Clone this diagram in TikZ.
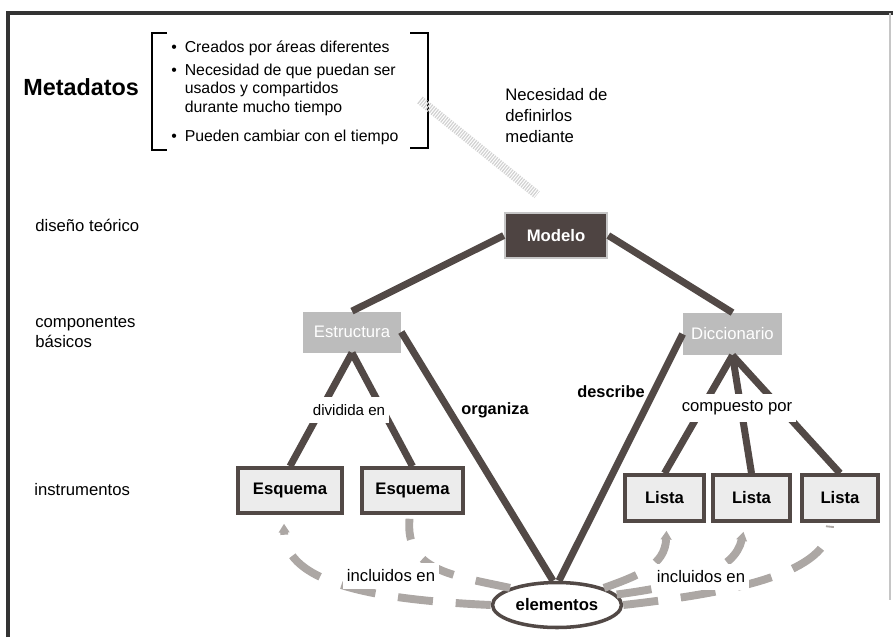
\documentclass[tikz,border=0pt]{standalone}
\usepackage{fontspec}
\setmainfont{Liberation Sans}
\usetikzlibrary{calc,shapes.geometric,arrows.meta}

\definecolor{linedark}{RGB}{82,73,70}
\definecolor{boxdark}{RGB}{78,68,66}
\definecolor{midgray}{RGB}{188,188,188}
\definecolor{dashgray}{RGB}{172,167,164}
\definecolor{lightbox}{RGB}{236,236,236}

\tikzset{
	topbox/.style={draw=gray!45, line width=1.5pt, fill=boxdark, text=white, font=\fontsize{9.5}{11}\selectfont\bfseries, minimum width=2.04cm, minimum height=0.9cm, inner sep=0pt},
	midbox/.style={fill=midgray, text=white, font=\fontsize{9.5}{11}\selectfont, minimum height=0.82cm, inner sep=0pt},
	lowbox/.style={draw=linedark, line width=2pt, fill=lightbox, font=\fontsize{9.5}{11}\selectfont\bfseries, minimum height=0.9cm, inner sep=0pt},
	link/.style={line width=4pt, draw=linedark},
	incl/.style={line width=4.5pt, draw=dashgray, dash pattern=on 20pt off 13pt},
	lbl/.style={font=\fontsize{9.5}{11.4}\selectfont, inner sep=0pt},
	cut/.style={fill=white, inner xsep=2pt, inner ysep=4pt}
}

\begin{document}
\begin{tikzpicture}[x=0.02cm, y=-0.02cm]
			%%%%% START %%%%%
			\useasboundingbox (0,0) rectangle (893,637);
			
			% frame
			\draw[line width=2pt, draw=black!80] (8,637) -- (8,13) -- (893,13);
			\draw[line width=0.6pt, draw=gray!45] (890,13) -- (890,600);
			
			% heading and list
			\node[anchor=west, inner sep=0pt, font=\fontsize{13.3}{15}\selectfont\bfseries] (metadatos) at (23,87) {Metadatos};
			\draw[line width=0.8pt] (167,33) -- (152,33) -- (152,150) -- (167,150);
			\draw[line width=0.8pt] (410,33) -- (428,33) -- (428,148) -- (410,148);
			\node[anchor=base west, inner sep=0pt, font=\fontsize{9}{10.8}\selectfont] (puntos) at (171,52) {%
				\begin{tabular}[t]{@{}l@{\hspace{4.5pt}}l@{}}
				\textbullet & Creados por áreas diferentes \\[2.3pt]
				\textbullet & Necesidad de que puedan ser \\
				 & usados y compartidos \\
				 & durante mucho tiempo \\[5.7pt]
				\textbullet & Pueden cambiar con el tiempo
				\end{tabular}};
			\node[lbl, anchor=north west, align=left, font=\fontsize{9.5}{11.9}\selectfont] (necesidad) at (505,88) {Necesidad de\\definirlos\\mediante};
			
			% level names
			\node[lbl, anchor=west] (disenio) at (35,225) {diseño teórico};
			\node[lbl, anchor=north west, align=left, font=\fontsize{9.5}{11.3}\selectfont] (componentes) at (35,316) {componentes\\básicos};
			\node[lbl, anchor=west] (instrumentos) at (34,490) {instrumentos};
			
			% boxes
			\node[topbox] (modelo) at (556,235.5) {Modelo};
			\node[midbox, minimum width=1.96cm] (estructura) at (352,332) {Estructura};
			\node[midbox, minimum width=1.98cm, minimum height=0.84cm] (diccionario) at (732.5,334) {Diccionario};
			\node[lowbox, minimum width=2.08cm] (esquemaA) at (290,490.5) {Esquema};
			\node[lowbox, minimum width=2.02cm] (esquemaB) at (412.5,490.5) {Esquema};
			\node[lowbox, minimum width=1.58cm, minimum height=0.92cm] (listaA) at (664.5,498) {Lista};
			\node[lowbox, minimum width=1.54cm, minimum height=0.92cm] (listaB) at (751.5,498) {Lista};
			\node[lowbox, minimum width=1.52cm, minimum height=0.92cm] (listaC) at (840,498) {Lista};
			\node[ellipse, draw=linedark, line width=2pt, fill=white, minimum width=2.58cm, minimum height=0.9cm, inner sep=0pt, font=\fontsize{9.5}{11}\selectfont\bfseries] (elementos) at (557,605) {elementos};
			
			% hatched pointer to the model
			\coordinate (necstart) at (420,100);
			\draw[line width=5pt, draw=gray!35, dash pattern=on 0.7pt off 0.7pt] (necstart) -- ($(modelo.north)+(-19,-17)$);
			
			% links
			\draw[link] (modelo.west) -- (estructura.north);
			\draw[link] (modelo.east) -- (diccionario.north);
			\draw[link] (estructura.east) -- ($(elementos.north)+(-4,0)$);
			\draw[link] (diccionario.west) -- ($(elementos.north)+(2,0)$);
			\draw[link] (estructura.south) -- (esquemaA.north);
			\draw[link] (estructura.south) -- (esquemaB.north);
			\draw[link] (diccionario.south) -- (listaA.north);
			\draw[link] (diccionario.south) -- (listaB.north);
			\draw[link] (diccionario.south) -- (listaC.north);
			
			% included in
			\draw[incl, -{Triangle[length=5pt,width=6pt]}] (elementos.west) .. controls (380,600) and (285,585) .. ($(esquemaA.south)+(-6,9)$);
			\draw[incl] (elementos.160) .. controls (450,575) and (405,570) .. ($(esquemaB.south)+(-3,4)$);
			\draw[incl, -{Triangle[length=5pt,width=6pt]}] (elementos.20) .. controls (640,575) and (665,565) .. ($(listaA.south)+(2,8)$);
			\draw[incl, -{Triangle[length=5pt,width=6pt]}] (elementos.10) .. controls (690,585) and (735,570) .. ($(listaB.south)+(-8,9)$);
			\draw[incl] (elementos.east) .. controls (740,592) and (828,572) .. ($(listaC.south)+(-10,3)$);
			
			% link labels
			\node[lbl, cut, font=\fontsize{8.6}{10}\selectfont] (dividida) at (349,410) {dividida en};
			\node[lbl, cut] (compuesto) at (737,408) {compuesto por};
			\node[lbl, font=\fontsize{9.3}{11}\selectfont\bfseries] (organiza) at (495,410) {organiza};
			\node[lbl, font=\fontsize{9.3}{11}\selectfont\bfseries] (describe) at (611,392) {describe};
			\node[lbl, cut] (incluidosA) at (391,576) {incluidos en};
			\node[lbl, cut] (incluidosB) at (701,577) {incluidos en};
			
			%%%%% END %%%%%
\end{tikzpicture}
\end{document}
